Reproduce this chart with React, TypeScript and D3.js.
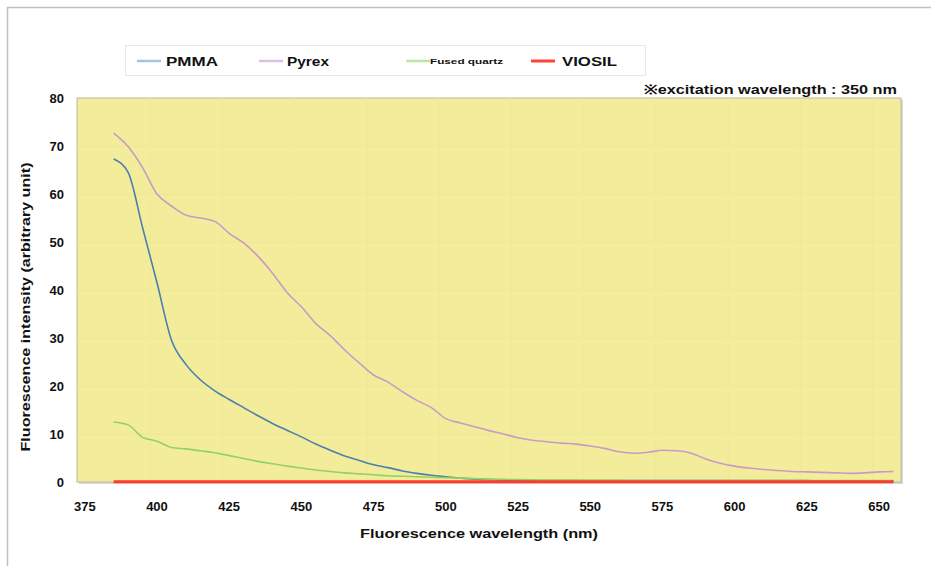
import React from "react";
import * as d3 from "d3";

const wavelengths: number[] = d3.range(385, 656, 5);

const pmma: number[] = [
  67.3, 64.5, 53, 41.5, 29.6, 24.5, 21.3, 19, 17.2, 15.5,
  13.8, 12.2, 10.8, 9.4, 7.9, 6.6, 5.4, 4.5, 3.6, 3.0,
  2.3, 1.8, 1.4, 1.1, 0.8, 0.6, 0.5, 0.4, 0.35, 0.3,
  0.3, 0.3, 0.3, 0.3, 0.3, 0.3, 0.3, 0.3, 0.3, 0.3,
  0.3, 0.3, 0.3, 0.3, 0.3, 0.3, 0.3, 0.3, 0.3, 0.25,
  0.25, 0.2, 0.2, 0.2, 0.2,
];

const pyrex: number[] = [
  72.7, 69.9, 65.5, 60, 57.5, 55.6, 55, 54.3, 51.8, 49.8,
  47, 43.5, 39.5, 36.5, 33, 30.5, 27.5, 24.8, 22.3, 20.8,
  18.8, 17, 15.5, 13.2, 12.3, 11.5, 10.7, 10, 9.2, 8.7,
  8.4, 8.1, 7.9, 7.5, 7, 6.3, 6, 6.2, 6.6, 6.5,
  6, 4.8, 3.9, 3.3, 2.9, 2.6, 2.4, 2.2, 2.1, 2.0,
  1.9, 1.8, 1.9, 2.1, 2.2,
];

const fusedQuartz: number[] = [
  12.5, 11.9, 9.3, 8.5, 7.2, 6.9, 6.5, 6.1, 5.5, 4.9,
  4.3, 3.8, 3.3, 2.9, 2.5, 2.2, 1.9, 1.7, 1.5, 1.3,
  1.2, 1.1, 1.0, 0.9, 0.8, 0.7, 0.6, 0.55, 0.5, 0.45,
  0.4, 0.4, 0.4, 0.35, 0.35, 0.35, 0.3, 0.3, 0.3, 0.3,
  0.3, 0.3, 0.3, 0.3, 0.3, 0.3, 0.3, 0.3, 0.3, 0.3,
  0.3, 0.3, 0.3, 0.3, 0.3,
];

const viosil: number[] = wavelengths.map(() => 0.05);

const xTicks: number[] = [375, 400, 425, 450, 475, 500, 525, 550, 575, 600, 625, 650];
const yTicks: number[] = [0, 10, 20, 30, 40, 50, 60, 70, 80];

const seriesNames: string[] = ["PMMA", "Pyrex", "Fused quartz", "VIOSIL"];
const seriesColors: string[] = ["#4a7fae", "#c99bc4", "#93d066", "#ff3b2b"];
const legendColors: string[] = ["#a8c2e6", "#dcbfe6", "#c0e3a8", "#ff4433"];

const W = 931;
const H = 566;
const left = 77;
const right = 901;
const top = 98;
const bottom = 482;

export default function App() {
  const x = d3.scaleLinear().domain([372.3, 657.6]).range([left, right]);
  const y = d3.scaleLinear().domain([0, 80]).range([bottom, top]);
  const line = d3
    .line<[number, number]>()
    .x((d) => x(d[0]))
    .y((d) => y(d[1]))
    .curve(d3.curveMonotoneX);

  const allSeries = [pmma, pyrex, fusedQuartz, viosil];
  const font = "'Liberation Sans', Arial, sans-serif";

  const legendItems = [
    { lx: 137, tx: 166, size: 13.5, tl: 52 },
    { lx: 259, tx: 287, size: 13.5, tl: 42 },
    { lx: 406, tx: 430, size: 7.5, tl: 73 },
    { lx: 531, tx: 562, size: 13.5, tl: 55 },
  ];

  return (
    <svg
      width={W}
      height={H}
      style={{ position: "absolute", left: 0, top: 0, background: "#fff" }}
      fontFamily={font}
    >
      <rect x={7.5} y={7.5} width={W + 20} height={H + 20} fill="#fff" stroke="#bfbfbf" strokeWidth={1.5} />

      {/* legend */}
      <rect x={125.5} y={45.5} width={520} height={30} fill="#fff" stroke="#e6e6e6" strokeWidth={1} />
      {seriesNames.map((name, i) => (
        <g key={name}>
          <line
            x1={legendItems[i].lx}
            x2={legendItems[i].lx + 24}
            y1={61}
            y2={61}
            stroke={legendColors[i]}
            strokeWidth={i === 3 ? 3 : 2.5}
          />
          <text
            x={legendItems[i].tx}
            y={61}
            dy="0.35em"
            fontSize={legendItems[i].size}
            fontWeight="bold"
            textLength={legendItems[i].tl}
            lengthAdjust="spacingAndGlyphs"
            fill="#111"
          >
            {name}
          </text>
        </g>
      ))}

      <text x={897} y={89} dy="0.35em" textAnchor="end" fontSize={13} fontWeight="bold" fill="#111" textLength={253} lengthAdjust="spacingAndGlyphs">
        ※excitation wavelength : 350 nm
      </text>

      {/* plot area */}
      <rect x={left + 2} y={top + 2} width={right - left} height={bottom - top} fill="#d8d8d0" />
      <rect x={left} y={top} width={right - left} height={bottom - top} fill="#f3ed9b" stroke="#b8b7a6" strokeWidth={1} />
      {yTicks.slice(1, -1).map((t) => (
        <line key={"gy" + t} x1={left} x2={right} y1={y(t)} y2={y(t)} stroke="#ebe597" strokeWidth={1} />
      ))}
      {xTicks.slice(1).map((t) => (
        <line key={"gx" + t} x1={x(t - 2.25)} x2={x(t - 2.25)} y1={top} y2={bottom} stroke="#eee898" strokeWidth={1} />
      ))}

      {allSeries.map((vals, i) => (
        <path
          key={seriesNames[i]}
          d={line(wavelengths.map((w, j) => [w, vals[j]] as [number, number])) || ""}
          fill="none"
          stroke={seriesColors[i]}
          strokeWidth={i === 3 ? 3 : 1.6}
          strokeLinejoin="round"
        />
      ))}

      {/* y axis labels */}
      {yTicks.map((t) => (
        <text key={"yt" + t} x={64} y={y(t)} dy="0.35em" textAnchor="end" fontSize={13} fontWeight="bold" fill="#111">
          {t}
        </text>
      ))}
      {/* x axis labels */}
      {xTicks.map((t) => (
        <text key={"xt" + t} x={x(t)} y={506} dy="0.35em" textAnchor="middle" fontSize={13} fontWeight="bold" fill="#111">
          {t}
        </text>
      ))}

      <text x={479} y={533} dy="0.35em" textAnchor="middle" fontSize={13} fontWeight="bold" fill="#111" textLength={238} lengthAdjust="spacingAndGlyphs">
        Fluorescence wavelength (nm)
      </text>
      <text
        transform={`translate(25,307) rotate(-90)`}
        dy="0.35em"
        textAnchor="middle"
        fontSize={13}
        fontWeight="bold"
        fill="#111"
        textLength={289}
        lengthAdjust="spacingAndGlyphs"
      >
        Fluorescence intensity (arbitrary unit)
      </text>
    </svg>
  );
}
